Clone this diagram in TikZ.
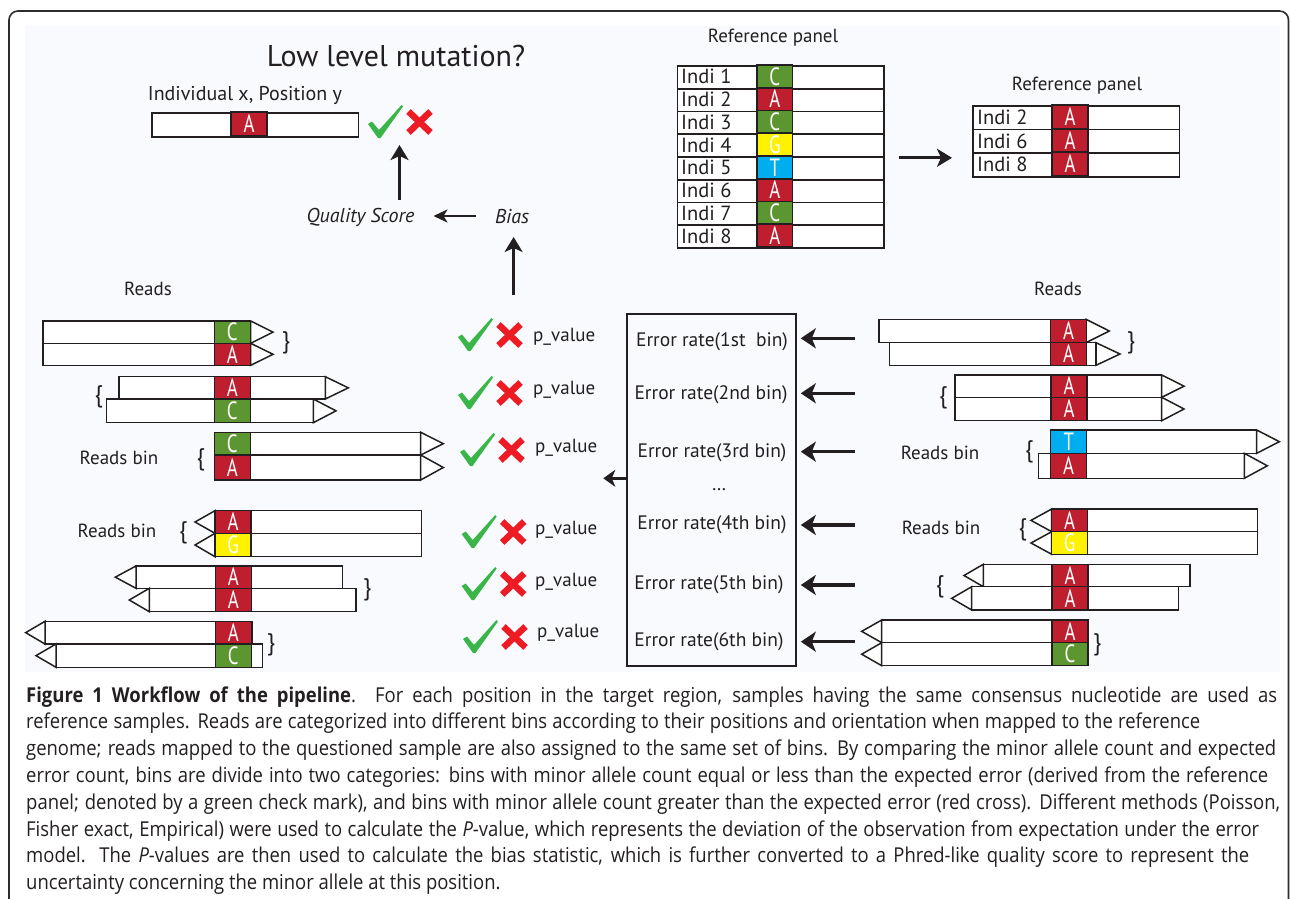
\documentclass[tikz,border=0pt]{standalone}
\usepackage{fontspec}
\setmainfont{PT Sans}
\newfontfamily\labf{PT Sans}
\newfontfamily\nucf[FakeStretch=0.75]{PT Sans}
\newfontfamily\capf[FakeStretch=0.9]{Open Sans}
\usetikzlibrary{arrows.meta}
\definecolor{lnc}{RGB}{35,31,32}
\definecolor{cr}{RGB}{190,30,45}
\definecolor{cg}{RGB}{92,150,48}
\definecolor{cy}{RGB}{255,242,0}
\definecolor{cb}{RGB}{0,174,239}
\definecolor{ckg}{RGB}{57,181,74}
\definecolor{xr}{RGB}{237,28,36}
\definecolor{panelc}{RGB}{248,250,253}
\definecolor{framec}{RGB}{45,45,45}
\tikzset{
  rd/.style={draw=lnc, line width=1.5pt, fill=white},
  nucbox/.style={draw=lnc, line width=1.5pt},
  nuc/.style={text=white, font=\nucf\fontsize{25}{25}\selectfont, inner sep=0pt, text height=17.5pt, text depth=0pt},
  lab/.style={font=\labf\fontsize{19}{22}\selectfont, text=lnc, inner sep=0pt},
  brc/.style={font=\labf\fontsize{24}{24}\selectfont, text=lnc, inner sep=0pt},
  tabrow/.style={draw=lnc, line width=1.8pt, fill=white, inner sep=0pt, anchor=north west},
  arr/.style={draw=lnc, line width=3pt, -{Stealth[length=15pt,width=18pt,inset=4pt]}},
  capl/.style={font=\capf\fontsize{20.5}{24}\selectfont, text=lnc, inner sep=0pt, anchor=base west},
  ckx/.pic={
    \fill[ckg] (0,19) -- (4,16.5) -- (11,25) -- (33.5,0) -- (35,1.5) -- (12.5,33) -- (10,33) -- cycle;
    \draw[xr, line width=6.5pt] (40.5,6.5) -- (62.5,27.5) (62.5,6.5) -- (40.5,27.5);
  }
}
% read pointing right: name, x1, x2, ytop, ybot, nucx, colour, letter, tip
\newcommand\readR[9]{%
  \draw[rd] (#2,#4) rectangle (#3,#5);
  \draw[rd] (#3,#4) -- (#9,{(#4+#5)/2}) -- (#3,#5) -- cycle;
  \draw[nucbox, fill=#7] (#6,#4) rectangle (#6+36,#5);
  \node[nuc] (#1) at (#6+18,{(#4+#5)/2}) {#8};
}
\newcommand\readL[9]{%
  \draw[rd] (#2,#4) rectangle (#3,#5);
  \draw[rd] (#2,#4) -- (#9,{(#4+#5)/2}) -- (#2,#5) -- cycle;
  \draw[nucbox, fill=#7] (#6,#4) rectangle (#6+36,#5);
  \node[nuc] (#1) at (#6+18,{(#4+#5)/2}) {#8};
}
\newcommand\capline[2]{\makebox[#1pt][s]{#2}}
\begin{document}
\begin{tikzpicture}[x=1pt,y=-1pt]
\useasboundingbox (0,0) rectangle (1290,899);
\fill[white] (0,0) rectangle (1290,899);
\draw[framec, line width=1.6pt, rounded corners=9pt] (9,930) -- (9,11) -- (1288.5,11) -- (1288.5,930);
\fill[panelc] (25,26) rectangle (1280,672);

% --- top: question
\node[lab, font=\labf\fontsize{30}{32}\selectfont] (title) at (396,56) {Low level mutation?};
\node[lab, font=\labf\fontsize{20}{22}\selectfont] (indiv) at (245,95) {Individual x, Position y};
\node[draw=lnc, line width=1.8pt, fill=white, minimum width=206.6pt, minimum height=24pt, inner sep=0, anchor=north west] (bar) at (151,112) {};
\draw[nucbox, line width=1.8pt, fill=cr] (231,112) rectangle (267,136);
\node[nuc] (barA) at (249,124) {A};
\pic at (368,105) {ckx};
\coordinate (res) at (399.5,145);
\coordinate (qtop) at (399.5,200);
\node[lab, font=\labf\itshape\fontsize{20}{22}\selectfont] (qs) at (360.5,217) {Quality Score};
\node[lab, font=\labf\itshape\fontsize{20}{22}\selectfont] (bias) at (512,217) {Bias};
\draw[arr] (qtop) -- (res);
\draw[arr, line width=2.6pt, -{Stealth[length=14pt,width=13pt,inset=4pt]}] ([xshift=-19pt,yshift=1pt]bias.west) -- ([xshift=19pt,yshift=1pt]qs.east);
\coordinate (bstart) at (513.6,295);
\coordinate (bend) at (513.6,237);
\draw[arr] (bstart) -- (bend);

% --- reference panels
\node[lab] (rp1) at (773,38) {Reference panel};
\foreach \i/\c/\l in {1/cg/C,2/cr/A,3/cg/C,4/cy/G,5/cb/T,6/cr/A,7/cg/C,8/cr/A}{
  \pgfmathsetmacro\yt{65+(\i-1)*22.75}
  \node[tabrow, minimum width=206.5pt, minimum height=22.75pt] (ta\i) at (676.5,\yt) {};
  \node[lab, font=\labf\fontsize{20.5}{22}\selectfont, anchor=west] (tl\i) at (681,\yt+11.8) {Indi \i};
  \draw[nucbox, line width=1.8pt, fill=\c] (757,\yt) rectangle (792.5,\yt+22.75);
  \node[nuc] (tn\i) at (774.75,\yt+11.4) {\l};
}
\node[lab] (rp2) at (1077,86) {Reference panel};
\foreach \k/\i in {0/2,1/6,2/8}{
  \pgfmathsetmacro\yt{105+\k*23.67}
  \node[tabrow, minimum width=206.6pt, minimum height=23.67pt] (tb\i) at (972,\yt) {};
  \node[lab, font=\labf\fontsize{20.5}{22}\selectfont, anchor=west] (tm\i) at (977,\yt+12.2) {Indi \i};
  \draw[nucbox, line width=1.8pt, fill=cr] (1052,\yt) rectangle (1088,\yt+23.67);
  \node[nuc] (to\i) at (1070,\yt+11.8) {A};
}
\draw[arr] ([xshift=14pt]ta4.south east) -- ([xshift=-20pt]tb6.west |- ta4.south east);

% --- reads labels
\node[lab] (readsL) at (148,289) {Reads};
\node[lab] (readsR) at (1058,289) {Reads};
\node[lab] (binL1) at (119,458) {Reads bin};
\node[lab] (binL2) at (117,531) {Reads bin};
\node[lab] (binR1) at (940,453) {Reads bin};
\node[lab] (binR2) at (941,528) {Reads bin};

% --- left reads
\readR{L1a}{43}{250.7}{321}{343.3}{214.3}{cg}{C}{273}
\readR{L1b}{43}{250.7}{343.3}{365.3}{214.3}{cr}{A}{273}
\readR{L2a}{119}{325.3}{376.7}{399}{214.3}{cr}{A}{348.3}
\readR{L2b}{106.7}{313.3}{399}{422.7}{214.3}{cg}{C}{336}
\readR{L3a}{214.3}{420.7}{432.3}{455}{214.3}{cg}{C}{443.3}
\readR{L3b}{214.3}{420.7}{455}{480}{214.3}{cr}{A}{443.3}
\readL{L4a}{215}{421.7}{510.7}{533.3}{215}{cr}{A}{195}
\readL{L4b}{215}{421.7}{533.3}{556.7}{215}{cy}{G}{195}
\readL{L5a}{136}{342.3}{566}{588.3}{215.3}{cr}{A}{115.3}
\readL{L5b}{149.3}{356}{588.3}{611.7}{215.3}{cr}{A}{129.3}
\readL{L6a}{45}{252.3}{621.3}{644}{215.3}{cr}{A}{25.7}
\readL{L6b}{56}{262.3}{644}{667.3}{215.3}{cg}{C}{36}

% --- right reads
\readR{R1a}{879}{1086}{319.3}{342.7}{1050.7}{cr}{A}{1109.3}
\readR{R1b}{889.3}{1096}{342.7}{365.3}{1050.7}{cr}{A}{1120}
\readR{R2a}{955}{1161.7}{375}{397.3}{1051}{cr}{A}{1184}
\readR{R2b}{955}{1161.7}{397.3}{420.7}{1051}{cr}{A}{1184}
\readR{R3a}{1050.7}{1256.7}{430}{453.3}{1050.7}{cb}{T}{1279.3}
\readR{R3b}{1038.3}{1244.3}{453.3}{478.3}{1050.7}{cr}{A}{1267.3}
\readL{R4a}{1051.7}{1257.7}{509}{531.7}{1051.7}{cr}{A}{1031}
\readL{R4b}{1051.7}{1257.7}{531.7}{554.3}{1051.7}{cy}{G}{1031}
\readL{R5a}{983.3}{1190}{564.3}{586.7}{1052}{cr}{A}{964}
\readL{R5b}{971.7}{1178.3}{586.7}{610}{1052}{cr}{A}{951.7}
\readL{R6a}{881.7}{1088.3}{620}{642.7}{1052}{cr}{A}{861.7}
\readL{R6b}{881.7}{1088.3}{642.7}{665.7}{1052}{cg}{C}{861.7}

% --- braces
\node[brc] (bL1) at (286,343) {\}};
\node[brc] (bL2) at (98.7,397) {\{};
\node[brc] (bL3) at (200.7,460) {\{};
\node[brc] (bL4) at (183.3,533) {\{};
\node[brc] (bL5) at (367.3,590) {\}};
\node[brc] (bL6) at (271,645) {\}};
\node[brc] (bR1) at (1131,343) {\}};
\node[brc] (bR2) at (943.3,398) {\{};
\node[brc] (bR3) at (1029.3,452) {\{};
\node[brc] (bR4) at (1022.7,530) {\{};
\node[brc] (bR5) at (940,587) {\{};
\node[brc] (bR6) at (1097.3,645) {\}};

% --- error rate box
\node[draw=lnc, line width=1.6pt, minimum width=169.3pt, minimum height=351.7pt, inner sep=0] (err) at (711.35,489.85) {};
\node[lab, font=\labf\fontsize{19.5}{22}\selectfont] (e1) at (712,341.7) {Error rate(1st\ \ bin)};
\node[lab, font=\labf\fontsize{19.5}{22}\selectfont] (e2) at (711,395) {Error rate(2nd bin)};
\node[lab, font=\labf\fontsize{19.5}{22}\selectfont] (e3) at (712,452.3) {Error rate(3rd bin)};
\node[lab] (edots) at (719,490) {\dots};
\node[lab, font=\labf\fontsize{19.5}{22}\selectfont] (e4) at (712,525) {Error rate(4th bin)};
\node[lab, font=\labf\fontsize{19.5}{22}\selectfont] (e5) at (709,585) {Error rate(5th bin)};
\node[lab, font=\labf\fontsize{19.5}{22}\selectfont] (e6) at (709,641.7) {Error rate(6th bin)};
\foreach \n/\y in {1/338.3,2/393.3,3/451.7,4/525,5/585,6/641.7}{
  \coordinate (r\n) at (855,\y);
  \draw[arr, line width=3.2pt, -{Stealth[length=15pt,width=20pt,inset=4pt]}] (r\n) -- ([xshift=4pt]r\n -| err.east);
}
\coordinate (lft) at (603.3,478.3);
\draw[arr, line width=2.6pt, -{Stealth[length=12pt,width=17pt,inset=3.5pt]}] (lft -| err.west) -- (lft);

% --- p-values
\foreach \n/\x/\y/\px/\py in {1/458/318/533/337,2/458/376/533/390,3/460/433/535/448,4/461.7/515/535/530,5/461.7/567/535/581.7,6/463/620/537/633}{
  \pic at (\x,\y) {ckx};
  \node[lab, anchor=west] (pv\n) at (\px,\py) {p\_value};
}

% --- caption
\node[capl] (cap1) at (26,702) {\capline{1251}{\textbf{Figure 1 Workflow of the pipeline}. For each position in the target region, samples having the same consensus nucleotide are used as}};
\node[capl] (cap2) at (26,728.8) {\capline{1174}{reference samples. Reads are categorized into different bins according to their positions and orientation when mapped to the reference}};
\node[capl] (cap3) at (26,755.6) {\capline{1250}{genome; reads mapped to the questioned sample are also assigned to the same set of bins. By comparing the minor allele count and expected}};
\node[capl] (cap4) at (26,782.4) {\capline{1242}{error count, bins are divide into two categories: bins with minor allele count equal or less than the expected error (derived from the reference}};
\node[capl] (cap5) at (26,809.2) {\capline{1254}{panel; denoted by a green check mark), and bins with minor allele count greater than the expected error (red cross). Different methods (Poisson,}};
\node[capl] (cap6) at (26,836) {\capline{1233}{Fisher exact, Empirical) were used to calculate the \textit{P}-value, which represents the deviation of the observation from expectation under the error}};
\node[capl] (cap7) at (26,862.8) {\capline{1223}{model. The \textit{P}-values are then used to calculate the bias statistic, which is further converted to a Phred-like quality score to represent the}};
\node[capl] (cap8) at (26,889.6) {uncertainty concerning the minor allele at this position.};
\end{tikzpicture}
\end{document}
